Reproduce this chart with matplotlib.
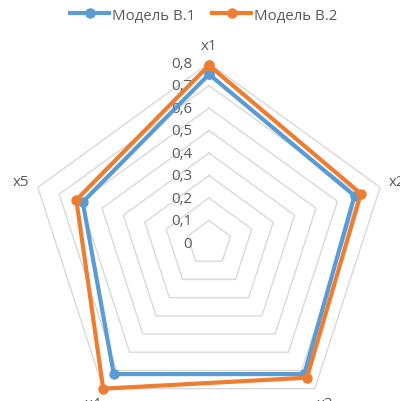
import numpy as np
import matplotlib
matplotlib.use("Agg")
import matplotlib.pyplot as plt

plt.rcParams['font.family'] = ['Open Sans', 'DejaVu Sans']

categories = ["x1", "x2", "x3", "x4", "x5"]
series_names = ["Модель В.1", "Модель В.2"]
model_b1 = [0.75, 0.68, 0.72, 0.72, 0.59]
model_b2 = [0.79, 0.71, 0.74, 0.80, 0.62]
tick_values = [0, 0.1, 0.2, 0.3, 0.4, 0.5, 0.6, 0.7, 0.8]
tick_labels = ["0", "0,1", "0,2", "0,3", "0,4", "0,5", "0,6", "0,7", "0,8"]

colors = ["#5B9BD5", "#ED7D31"]
grid_color = "#D9D9D9"
text_color = "#595959"

fig = plt.figure(figsize=(4.0, 4.02), dpi=100)
ax = fig.add_axes([0.0725, -0.0548, 0.9, 0.8955], projection="polar")
ax.set_theta_offset(np.pi / 2)
ax.set_theta_direction(-1)
ax.set_ylim(0, 0.8)
ax.grid(False)
ax.spines["polar"].set_visible(False)
ax.set_xticks([])
ax.set_yticks([])
ax.patch.set_alpha(0)

n = len(categories)
theta = np.arange(n) * 2 * np.pi / n
theta_closed = np.append(theta, theta[0])

# pentagonal rings for each tick level
for v in tick_values[1:]:
    ax.plot(theta_closed, [v] * (n + 1), color=grid_color, lw=1.0, zorder=1,
            clip_on=False)

# value labels along the vertical axis
for v, lab in zip(tick_values, tick_labels):
    ax.annotate(lab, xy=(0, v), xytext=(-12, 0), textcoords="offset points",
                ha="right", va="center", fontsize=10.8, color=text_color,
                annotation_clip=False)

# category labels just beyond the outer ring
for t, c in zip(theta, categories):
    ax.text(t, 0.88, c, ha="center", va="center", fontsize=10.8,
            color=text_color, clip_on=False)

for vals, name, col, z in zip([model_b1, model_b2], series_names, colors, [3, 4]):
    vals_closed = np.append(vals, vals[0])
    ax.plot(theta_closed, vals_closed, color=col, lw=3.0, marker="o",
            markersize=6.5, label=name, zorder=z, clip_on=False,
            solid_joinstyle="round")

fig.legend(loc="upper center", bbox_to_anchor=(0.51, 1.012), ncol=2,
           frameon=False, fontsize=10.8, handlelength=2.6, columnspacing=1.1,
           handletextpad=0.2, labelcolor=text_color)

fig.savefig("out.png", dpi=100)
